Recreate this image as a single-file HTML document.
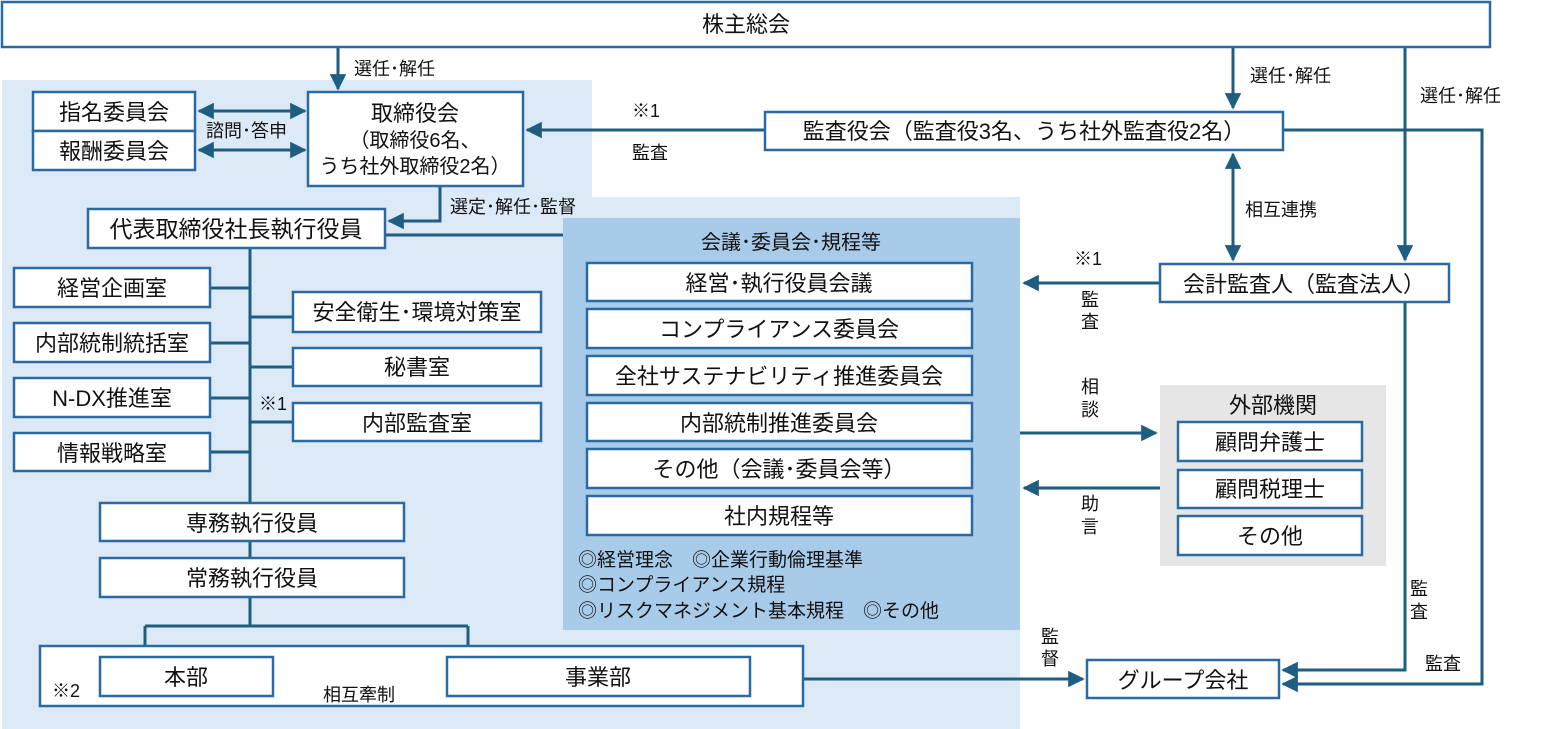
<!DOCTYPE html>
<html><head><meta charset="utf-8"><style>
html,body{margin:0;padding:0;background:#fff;}
svg{display:block;font-family:"Liberation Sans","Noto Sans CJK JP",sans-serif;}
.b{fill:#fff;stroke:#2a6aa0;stroke-width:2.5;}
.l{stroke:#1e5e80;stroke-width:3;fill:none;}
.t{font-size:22px;fill:#111;text-anchor:middle;}
.s{font-size:18px;fill:#111;}
</style></head><body>
<svg width="1552" height="729" viewBox="0 0 1552 729">
<defs>
<marker id="a" viewBox="0 0 10 10" refX="9" refY="5" markerWidth="5.5" markerHeight="5.5" orient="auto-start-reverse"><path d="M0,0L10,5L0,10z" fill="#1e5e80"/></marker>
</defs>
<path d="M2,80H592V197H1020V729H2Z" fill="#dce9f6"/>
<rect x="563" y="218" width="457" height="412" fill="#a9cbea"/>
<rect x="1160" y="385" width="226" height="181" fill="#e6e6e6"/>

<path class="l" d="M338,47V89" marker-end="url(#a)"/>
<path class="l" d="M199,111H305" marker-start="url(#a)" marker-end="url(#a)"/>
<path class="l" d="M199,150H305" marker-start="url(#a)" marker-end="url(#a)"/>
<path class="l" d="M765,130H527" marker-end="url(#a)"/>
<path class="l" d="M440,186V221H389" marker-end="url(#a)"/>
<path class="l" d="M385,235H563"/>
<path class="l" d="M250,248V503M210,288H250M210,343H250M210,398H250M210,452H250M250,317H293M250,367H293M250,422H293"/>
<path class="l" d="M250,541V558M250,597V626M145,626H468M145,626V657M468,626V657"/>
<path class="l" d="M277,679H443" marker-start="url(#a)" marker-end="url(#a)"/>
<path class="l" d="M803,679H1083" marker-end="url(#a)"/>
<path class="l" d="M1233,47V108" marker-end="url(#a)"/>
<path class="l" d="M1405,47V260" marker-end="url(#a)"/>
<path class="l" d="M1233,154V260" marker-start="url(#a)" marker-end="url(#a)"/>
<path class="l" d="M1160,283H1024" marker-end="url(#a)"/>
<path class="l" d="M1020,433H1156" marker-end="url(#a)"/>
<path class="l" d="M1160,488H1024" marker-end="url(#a)"/>
<path class="l" d="M1405,302V670H1283" marker-end="url(#a)"/>
<path class="l" d="M1283,130H1482V684H1283" marker-end="url(#a)"/>

<rect class="b" x="2" y="2" width="1488" height="45"/>
<text class="t" x="746" y="32">株主総会</text>
<rect class="b" x="33" y="92" width="162" height="39"/><text class="t" x="114" y="120">指名委員会</text>
<rect class="b" x="33" y="131" width="162" height="39"/><text class="t" x="114" y="159">報酬委員会</text>
<rect class="b" x="308" y="92" width="215" height="94"/>
<text class="t" x="415" y="121">取締役会</text>
<text class="t" x="415" y="147" style="font-size:20px">（取締役6名、</text>
<text class="t" x="415" y="173" style="font-size:20px">うち社外取締役2名）</text>
<rect class="b" x="765" y="112" width="518" height="38"/><text class="t" x="1024" y="139">監査役会（監査役3名、うち社外監査役2名）</text>
<rect class="b" x="88" y="209" width="297" height="39"/><text class="t" x="236" y="237" style="font-size:23px">代表取締役社長執行役員</text>

<rect class="b" x="14" y="268" width="196" height="39"/><text class="t" x="112" y="296">経営企画室</text>
<rect class="b" x="14" y="323" width="196" height="39"/><text class="t" x="112" y="351">内部統制統括室</text>
<rect class="b" x="14" y="378" width="196" height="39"/><text class="t" x="112" y="406">N-DX推進室</text>
<rect class="b" x="14" y="433" width="196" height="38"/><text class="t" x="112" y="461">情報戦略室</text>
<rect class="b" x="293" y="292" width="248" height="40"/><text class="t" x="417" y="320">安全衛生･環境対策室</text>
<rect class="b" x="293" y="348" width="248" height="38"/><text class="t" x="417" y="375">秘書室</text>
<rect class="b" x="293" y="403" width="248" height="38"/><text class="t" x="417" y="431">内部監査室</text>
<text class="s" x="259" y="410">※1</text>

<rect class="b" x="100" y="503" width="304" height="38"/><text class="t" x="252" y="531">専務執行役員</text>
<rect class="b" x="100" y="558" width="304" height="39"/><text class="t" x="252" y="586">常務執行役員</text>
<rect class="b" x="40" y="646" width="763" height="60"/>
<rect class="b" x="100" y="657" width="173" height="39"/><text class="t" x="186" y="685">本部</text>
<rect class="b" x="447" y="657" width="303" height="39"/><text class="t" x="598" y="685">事業部</text>
<text class="s" x="52" y="697">※2</text>
<text class="s" x="323" y="701">相互牽制</text>

<text class="t" x="791" y="249" style="font-size:20px">会議･委員会･規程等</text>
<rect class="b" x="587" y="263" width="385" height="38"/><text class="t" x="779" y="291">経営･執行役員会議</text>
<rect class="b" x="587" y="309" width="385" height="39"/><text class="t" x="779" y="337">コンプライアンス委員会</text>
<rect class="b" x="587" y="356" width="385" height="39"/><text class="t" x="779" y="384">全社サステナビリティ推進委員会</text>
<rect class="b" x="587" y="403" width="385" height="38"/><text class="t" x="779" y="431">内部統制推進委員会</text>
<rect class="b" x="587" y="449" width="385" height="39"/><text class="t" x="779" y="477">その他（会議･委員会等）</text>
<rect class="b" x="587" y="496" width="385" height="39"/><text class="t" x="779" y="524">社内規程等</text>
<text class="s" x="578" y="566" style="font-size:19px">◎経営理念　◎企業行動倫理基準</text>
<text class="s" x="578" y="591" style="font-size:19px">◎コンプライアンス規程</text>
<text class="s" x="578" y="617" style="font-size:19px">◎リスクマネジメント基本規程　◎その他</text>

<rect class="b" x="1160" y="264" width="289" height="38"/><text class="t" x="1304" y="292">会計監査人（監査法人）</text>
<text class="t" x="1273" y="413">外部機関</text>
<rect class="b" x="1178" y="422" width="184" height="39"/><text class="t" x="1270" y="450">顧問弁護士</text>
<rect class="b" x="1178" y="470" width="184" height="38"/><text class="t" x="1270" y="497">顧問税理士</text>
<rect class="b" x="1178" y="516" width="184" height="39"/><text class="t" x="1270" y="544">その他</text>
<rect class="b" x="1087" y="660" width="192" height="38"/><text class="t" x="1183" y="688">グループ会社</text>

<text class="s" x="354" y="75">選任･解任</text>
<text class="s" x="206" y="137">諮問･答申</text>
<text class="s" x="632" y="117">※1</text>
<text class="s" x="632" y="159">監査</text>
<text class="s" x="450" y="213">選定･解任･監督</text>
<text class="s" x="1250" y="82">選任･解任</text>
<text class="s" x="1420" y="102">選任･解任</text>
<text class="s" x="1245" y="216">相互連携</text>
<text class="s" x="1074" y="265">※1</text>
<text class="s" x="1081" y="306">監</text><text class="s" x="1081" y="328">査</text>
<text class="s" x="1081" y="393">相</text><text class="s" x="1081" y="416">談</text>
<text class="s" x="1081" y="510">助</text><text class="s" x="1081" y="533">言</text>
<text class="s" x="1041" y="643">監</text><text class="s" x="1041" y="665">督</text>
<text class="s" x="1410" y="595">監</text><text class="s" x="1410" y="618">査</text>
<text class="s" x="1425" y="670">監査</text>
</svg>
</body></html>
